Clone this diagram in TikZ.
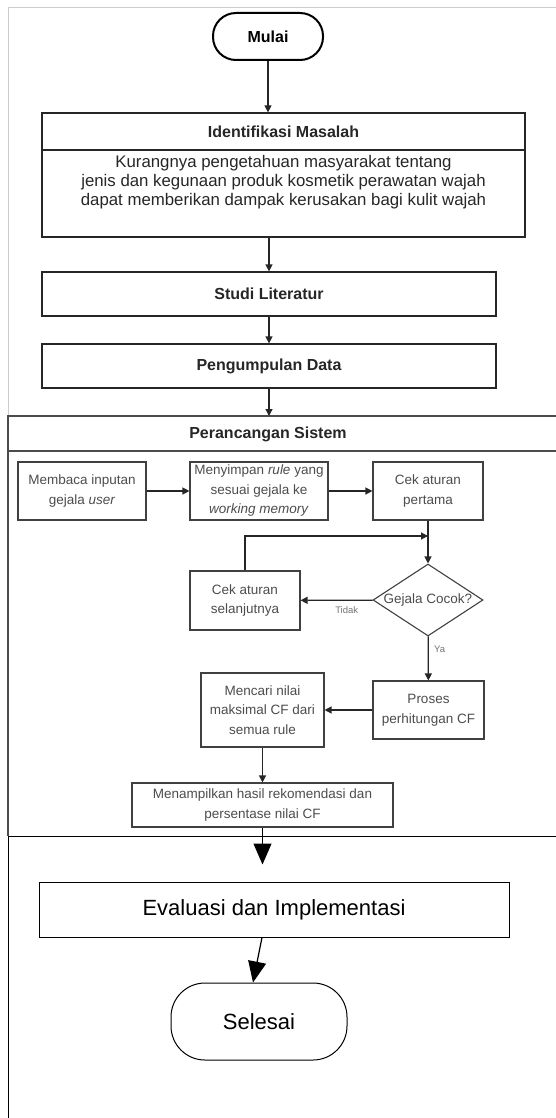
\documentclass[tikz,border=0pt]{standalone}
\usepackage{fontspec}
\setmainfont{Liberation Sans}
\usetikzlibrary{shapes,arrows.meta,calc}

\begin{document}
\begin{tikzpicture}[x=1pt,y=-1pt,
	proc/.style={draw=black!85, line width=1.2pt, rectangle, align=center, text=black!85},
	inbox/.style={draw=black!75, line width=1.1pt, rectangle, align=center, inner sep=1pt, text=black!70, font=\fontsize{13.5}{19.5}\selectfont},
	hd/.style={font=\fontsize{16}{19}\selectfont\bfseries},
	arr/.style={-{Triangle[length=7pt,width=7pt]}, line width=1.2pt, draw=black!85},
	bigarr/.style={-{Triangle[length=21pt,width=18pt]}, line width=1.2pt},
	lbl/.style={font=\fontsize{9.5}{11}\selectfont, text=black!55}]
				\useasboundingbox (0,0) rectangle (556,1118);
				\draw[black!20, line width=0.8pt] (8,416) -- (8,7) -- (560,7);
				\draw[black!70, line width=1.3pt] (8,836) -- (8,416) -- (560,416);
				\draw[black!70, line width=1.3pt] (8,451) -- (560,451);
				\draw[black, line width=1pt] (8,1120) -- (8,836) -- (560,836);
				\node[draw=black, line width=2pt, rounded corners=23pt, minimum width=110pt, minimum height=47pt, hd] (mulai) at (268,36.5) {Mulai};
				\node[proc, hd, minimum width=483pt, minimum height=37pt] (idhead) at (283.5,131.5) {Identifikasi Masalah};
				\node[proc, minimum width=483pt, minimum height=87pt, font=\fontsize{16.8}{19}\selectfont] (idbody) at (283.5,193.5) {Kurangnya pengetahuan masyarakat tentang\\jenis dan kegunaan produk kosmetik perawatan wajah\\dapat memberikan dampak kerusakan bagi kulit wajah\\[8pt]\mbox{}};
				\node[proc, hd, minimum width=454pt, minimum height=44pt] (studi) at (269,294) {Studi Literatur};
				\node[proc, hd, minimum width=454pt, minimum height=44pt] (kumpul) at (269,366) {Pengumpulan Data};
				\node[hd, text=black!85] (rancang) at (268,434) {Perancangan Sistem};
				\coordinate (lanetop) at (269,416);
				\node[inbox, minimum width=128pt, minimum height=58pt] (baca) at (82,491) {Membaca inputan\\gejala \textit{user}};
				\node[inbox, minimum width=138pt, minimum height=58pt] (simpan) at (259,491) {Menyimpan \textit{rule} yang\\sesuai gejala ke\\\textit{working memory}};
				\node[inbox, minimum width=110pt, minimum height=58pt] (cek1) at (428,491) {Cek aturan\\pertama};
				\node[diamond, draw=black!75, line width=1.1pt, minimum width=110pt, minimum height=72pt, inner sep=0pt, text=black!70, font=\fontsize{13.5}{19.5}\selectfont] (cocok) at (428,600) {\makebox[0pt]{Gejala Cocok?}};
				\node[inbox, minimum width=110pt, minimum height=59pt] (cek2) at (245,600.5) {Cek aturan\\selanjutnya};
				\node[inbox, minimum width=111pt, minimum height=58pt] (proses) at (428.5,710) {Proses\\perhitungan CF};
				\node[inbox, minimum width=123pt, minimum height=74pt] (cari) at (262.5,710) {Mencari nilai\\maksimal CF dari\\semua rule};
				\node[inbox, minimum width=261pt, minimum height=44pt] (tampil) at (262.5,805) {Menampilkan hasil rekomendasi dan\\persentase nilai CF};
				\node[draw=black, line width=1pt, minimum width=470pt, minimum height=55pt, font=\fontsize{22}{26}\selectfont] (eval) at (274,909.5) {Evaluasi dan Implementasi};
				\node[draw=black, line width=1pt, rounded corners=34pt, minimum width=176pt, minimum height=77pt, font=\fontsize{22}{26}\selectfont] (selesai) at (259,1021.5) {Selesai};
				\coordinate (join) at ($(cek1.south)!0.36!(cocok.north)$);
				\draw[arr] (mulai.south) -- (mulai.south |- idhead.north);
				\draw[arr] (studi.north |- idbody.south) -- (studi.north);
				\draw[arr] (studi) -- (kumpul);
				\draw[arr] (kumpul) -- (lanetop);
				\draw[arr] (baca) -- (simpan);
				\draw[arr] (simpan) -- (cek1);
				\draw[arr] (cek1) -- (cocok);
				\draw[arr] (cek2.north) |- (join);
				\draw[arr] (cocok) -- node[pos=0.36, below=2pt, lbl]{Tidak} (cek2);
				\draw[arr] (cocok) -- node[pos=0.3, right=2pt, lbl]{Ya} (proses);
				\draw[arr] (proses) -- (cari);
				\draw[arr] (cari) -- (tampil);
				\draw[bigarr, shorten >=17pt] (tampil.south) -- (tampil.south |- eval.north);
				\draw[bigarr] ([xshift=-12pt]eval.south) -- ([xshift=-6pt]selesai.north);
			\end{tikzpicture}
\end{document}
